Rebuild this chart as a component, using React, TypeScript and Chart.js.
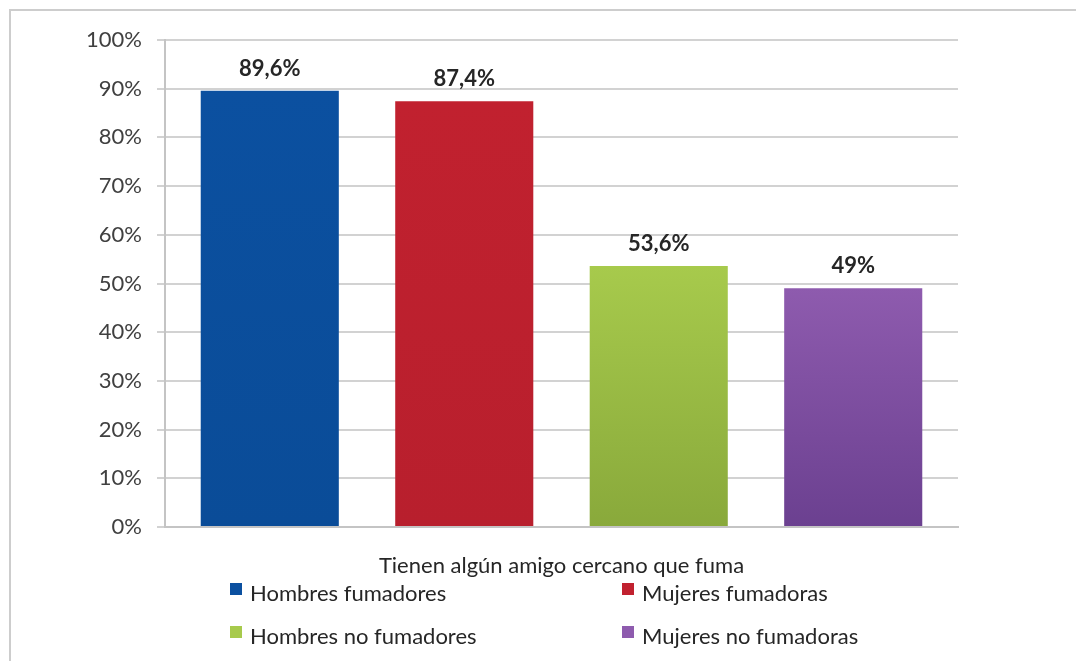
import React, { useEffect, useRef } from "react";
import { Chart, registerables } from "chart.js";

Chart.register(...registerables);

const categories = ["Tienen algún amigo cercano que fuma"];
const seriesNames = [
  "Hombres fumadores",
  "Mujeres fumadoras",
  "Hombres no fumadores",
  "Mujeres no fumadoras",
];
const seriesValues = [89.6, 87.4, 53.6, 49];
const yTicks = [0, 10, 20, 30, 40, 50, 60, 70, 80, 90, 100];
const topColors = ["#0b50a0", "#c1212f", "#a7ca4c", "#8e5bae"];
const bottomColors = ["#0a4c98", "#b81f2d", "#89a93b", "#6b4090"];

const FONT = "Lato, 'Open Sans', sans-serif";

function fmt(v: number): string {
  return String(v).replace(".", ",") + "%";
}

export default function App() {
  const ref = useRef<HTMLCanvasElement | null>(null);

  useEffect(() => {
    if (!ref.current) return;

    const frame = {
      id: "frame",
      beforeDraw(chart: any) {
        const ctx = chart.ctx;
        ctx.save();
        ctx.fillStyle = "#ffffff";
        ctx.fillRect(0, 0, chart.width, chart.height);
        ctx.strokeStyle = "#cdcdcd";
        ctx.lineWidth = 2;
        ctx.beginPath();
        ctx.moveTo(10, chart.height + 5);
        ctx.lineTo(10, 10);
        ctx.lineTo(chart.width + 5, 10);
        ctx.stroke();
        ctx.restore();
      },
      afterDatasetsDraw(chart: any) {
        const ctx = chart.ctx;
        ctx.save();
        ctx.font = `bold 22px ${FONT}`;
        ctx.fillStyle = "#262626";
        ctx.textAlign = "center";
        ctx.textBaseline = "alphabetic";
        chart.data.datasets.forEach((ds: any, i: number) => {
          const meta = chart.getDatasetMeta(i);
          const el = meta.data[0];
          if (!el) return;
          ctx.fillText(fmt(ds.data[0]), el.x, el.y - 15);
        });
        ctx.restore();
      },
      afterDraw(chart: any) {
        const ctx = chart.ctx;
        const area = chart.chartArea;
        ctx.save();
        ctx.fillStyle = "#262626";
        ctx.font = `22px ${FONT}`;
        ctx.textAlign = "center";
        ctx.textBaseline = "alphabetic";
        ctx.fillText(categories[0], (area.left + area.right) / 2, 573);
        // legend: two columns, two rows
        const colX = [230, 622];
        const rowY = [583, 626];
        ctx.textAlign = "left";
        chart.data.datasets.forEach((ds: any, i: number) => {
          const col = i % 2;
          const row = Math.floor(i / 2);
          const bx = colX[col];
          const by = rowY[row];
          ctx.fillStyle = topColors[i];
          ctx.fillRect(bx, by, 12, 12);
          ctx.fillStyle = "#262626";
          ctx.fillText(ds.label, bx + 20, by + 18);
        });
        ctx.restore();
      },
    };

    const chart = new Chart(ref.current, {
      type: "bar",
      data: {
        labels: categories,
        datasets: seriesNames.map((name, i) => ({
          label: name,
          data: [seriesValues[i]],
          backgroundColor: (c: any) => {
            const ch = c.chart;
            const area = ch.chartArea;
            if (!area) return topColors[i];
            const y = ch.scales.y.getPixelForValue(seriesValues[i]);
            const g = ch.ctx.createLinearGradient(0, y, 0, area.bottom);
            g.addColorStop(0, topColors[i]);
            g.addColorStop(1, bottomColors[i]);
            return g;
          },
          borderWidth: 0,
          barPercentage: 0.71,
          categoryPercentage: 0.981,
        })),
      },
      options: {
        responsive: false,
        animation: false,
        layout: { padding: { left: 0, top: 40, right: 118, bottom: 134 } },
        plugins: {
          legend: { display: false },
          tooltip: { enabled: false },
          title: { display: false },
        },
        scales: {
          x: {
            ticks: { display: false },
            grid: { display: false },
            border: { display: true, color: "#c4c4c4", width: 2 },
            afterFit: (s: any) => {
              s.height = 0;
            },
          },
          y: {
            min: 0,
            max: 100,
            afterBuildTicks: (s: any) => {
              s.ticks = yTicks.map((v) => ({ value: v }));
            },
            ticks: {
              callback: (v: any) => v + "%",
              font: { family: FONT, size: 22 },
              color: "#404040",
              padding: 15,
            },
            grid: {
              color: "#d2d2d2",
              lineWidth: 2,
              tickLength: 8,
              drawTicks: true,
            },
            border: { display: true, color: "#c4c4c4", width: 2 },
            afterFit: (s: any) => {
              s.width = 165;
            },
          },
        },
      },
      plugins: [frame],
    });

    return () => chart.destroy();
  }, []);

  return (
    <div style={{ position: "fixed", left: 0, top: 0, width: 1076, height: 661 }}>
      <canvas ref={ref} width={1076} height={661} />
    </div>
  );
}
